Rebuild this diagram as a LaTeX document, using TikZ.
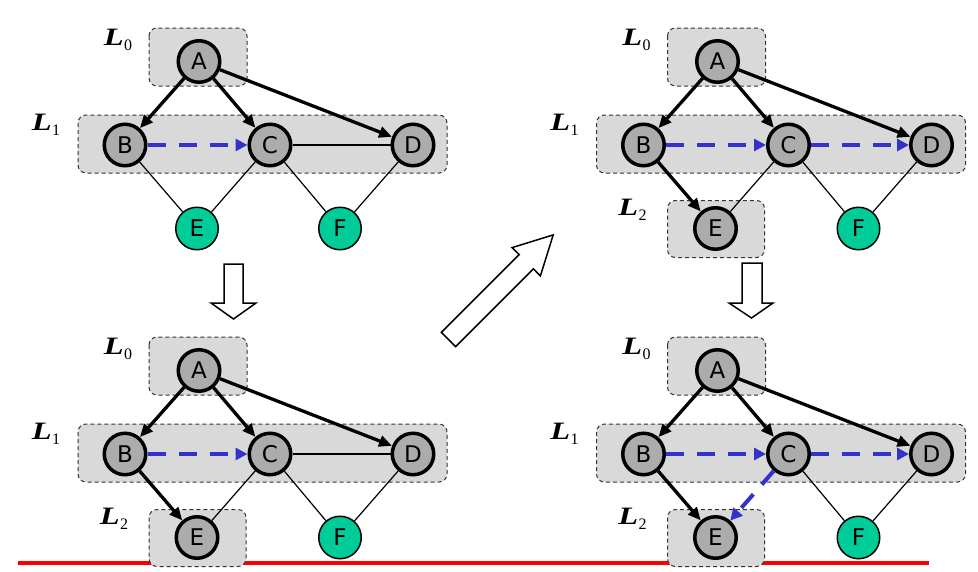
\documentclass[tikz,border=0pt]{standalone}
\usepackage{fontspec}
\setmainfont{DejaVu Sans}
\newfontfamily\tnr{Liberation Serif}
\usetikzlibrary{arrows.meta}
\definecolor{nodegray}{RGB}{172,172,172}
\definecolor{boxgray}{RGB}{217,217,217}
\definecolor{leafgreen}{RGB}{0,204,153}
\definecolor{dashblue}{RGB}{51,51,204}
\newcommand\lbl[1]{\scalebox{1.3}[1]{\tnr\fontsize{25}{25}\selectfont\bfseries\itshape L}\kern0.3pt\raisebox{-4.5pt}{\tnr\fontsize{16}{16}\selectfont #1}}
\tikzset{
  gnode/.style={circle, draw=black, line width=3.5pt, fill=nodegray, minimum size=41.5pt, inner sep=0pt, font=\fontsize{23}{23}\selectfont},
  lnode/.style={circle, draw=black, line width=1.5pt, fill=leafgreen, minimum size=42.5pt, inner sep=0pt, font=\fontsize{23}{23}\selectfont},
  layerbox/.style={draw=black!80, dash pattern=on 4pt off 3pt, line width=1pt, fill=boxgray, rounded corners=8pt},
  treeedge/.style={line width=3.3pt, -{Triangle[length=13pt,width=11pt]}},
  crossedge/.style={line width=1.2pt},
  orderedge/.style={dashblue, line width=4pt, dash pattern=on 18pt off 13pt, -{Triangle[length=12pt,width=12pt]}},
  lab/.style={inner sep=0pt},
  blockarrow/.style={draw=black, line width=1.5pt, fill=white, line join=miter},
  redline/.style={draw={rgb,255:red,255;green,0;blue,0}, line width=3.5pt},
}
\newcommand\panel[3]{%
  \draw[layerbox] (149,28) rectangle (247,86);
  \draw[layerbox] (78,115) rectangle (447,173);
  \ifnum#3=1 \draw[layerbox] (149,200.5) rectangle (246,257.5);
    \node[lab] (#1l2) at (114,210) {\lbl{2}};\fi
  \node[lab] (#1l0) at (118,40) {\lbl{0}};
  \node[lab] (#1l1) at (46,125) {\lbl{1}};
  \node[gnode] (#1A) at (199,61.5) {A};
  \node[gnode] (#1B) at (125,145) {B};
  \node[gnode] (#1C) at (270,145) {C};
  \node[gnode] (#1D) at (413,145) {D};
  \node[#2] (#1E) at (197,228.5) {E};
  \node[lnode] (#1F) at (340,228.5) {F};
  \draw[treeedge] (#1A) -- (#1B);
  \draw[treeedge] (#1A) -- (#1C);
  \draw[treeedge] (#1A) -- (#1D);
  \draw[orderedge] (#1B) -- (#1C);
  \draw[crossedge] (#1C) -- (#1F);
  \draw[crossedge] (#1D) -- (#1F);
}
\begin{document}
\begin{tikzpicture}[x=1pt,y=-1pt]
\useasboundingbox (0,0) rectangle (978,571);
\coordinate (r1) at (18,563);
\coordinate (r2) at (929,563);
\draw[redline] (r1) -- (r2);
% top-left
\begin{scope}
  \panel{a}{lnode}{0}
  \draw[crossedge] (aC) -- (aD);
  \draw[crossedge] (aB) -- (aE);
  \draw[crossedge] (aC) -- (aE);
\end{scope}
% top-right
\begin{scope}[shift={(518.5,0)}]
  \panel{b}{gnode}{1}
  \draw[treeedge] (bB) -- (bE);
  \draw[orderedge] (bC) -- (bD);
  \draw[crossedge] (bC) -- (bE);
\end{scope}
% bottom-left
\begin{scope}[shift={(0,309)}]
  \panel{c}{gnode}{1}
  \draw[treeedge] (cB) -- (cE);
  \draw[crossedge] (cC) -- (cD);
  \draw[crossedge] (cC) -- (cE);
\end{scope}
% bottom-right
\begin{scope}[shift={(518.5,309)}]
  \panel{d}{gnode}{1}
  \draw[treeedge] (dB) -- (dE);
  \draw[orderedge] (dC) -- (dD);
  \draw[orderedge] (dC) -- (dE);
\end{scope}
% block arrows
\draw[blockarrow] (224,264) -- (243,264) -- (243,303) -- (256,303) -- (233.5,319) -- (211,303) -- (224,303) -- cycle;
\draw[blockarrow] (742,263) -- (762,263) -- (762,303) -- (773,303) -- (751.5,318) -- (729,303) -- (742,303) -- cycle;
\draw[blockarrow] (441.4,332.4) -- (519.2,254.6) -- (512.1,247.6) -- (553.2,234.9) -- (540.4,275.9) -- (533.4,268.8) -- (455.6,346.6) -- cycle;
\end{tikzpicture}
\end{document}
